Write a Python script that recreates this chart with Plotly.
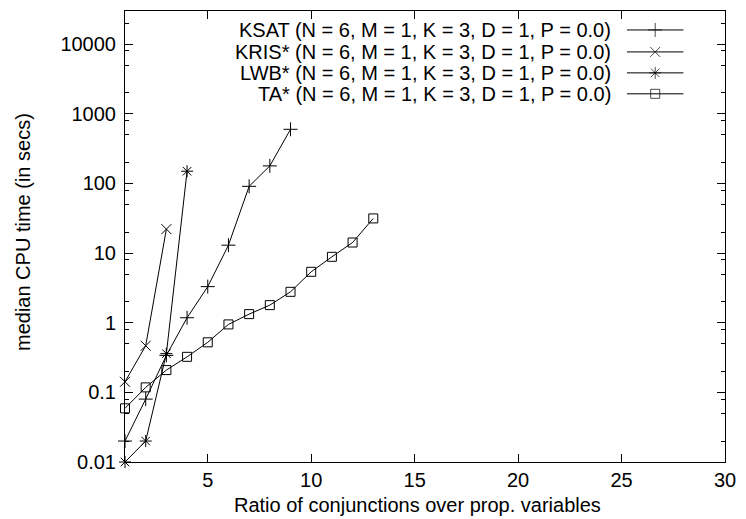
import plotly.graph_objects as go
import math

# ---------------- data ----------------
ksat_x = [1, 2, 3, 4, 5, 6, 7, 8, 9]
ksat_y = [0.02, 0.08, 0.34, 1.18, 3.3, 13.0, 91, 179, 600]

kris_x = [1, 2, 3]
kris_y = [0.142, 0.467, 22.1]

lwb_x = [1, 2, 3, 4]
lwb_y = [0.01, 0.02, 0.36, 150]

ta_x = [1, 2, 3, 4, 5, 6, 7, 8, 9, 10, 11, 12, 13]
ta_y = [0.059, 0.118, 0.209, 0.324, 0.523, 0.946, 1.33, 1.79, 2.78, 5.39, 8.85, 14.2, 31.5]

series_names = [
    "KSAT (N = 6, M = 1, K = 3, D = 1, P = 0.0)",
    "KRIS* (N = 6, M = 1, K = 3, D = 1, P = 0.0)",
    "LWB* (N = 6, M = 1, K = 3, D = 1, P = 0.0)",
    "TA* (N = 6, M = 1, K = 3, D = 1, P = 0.0)",
]
x_ticks = [5, 10, 15, 20, 25, 30]
y_ticks = [0.01, 0.1, 1, 10, 100, 1000, 10000]
y_tick_labels = ["0.01", "0.1", "1", "10", "100", "1000", "10000"]
x_title = "Ratio of conjunctions over prop. variables"
y_title = "median CPU time (in secs)"

# ---------------- layout constants ----------------
W, H = 746, 519
L, R, T, B = 125, 15, 10, 57
PW, PH = W - L - R, H - T - B
FONT = "Liberation Sans, Arial, sans-serif"
FS = 20
symbols = ["cross-thin", "x-thin", "asterisk-open", "square-open"]
sizes = [10, 10, 10, 9]

def px_to_paper_x(px):
    return (px - L) / PW

def px_to_paper_y(py):
    return (H - B - py) / PH

fig = go.Figure()
data = [(ksat_x, ksat_y), (kris_x, kris_y), (lwb_x, lwb_y), (ta_x, ta_y)]
for (xs, ys), name, sym, sz in zip(data, series_names, symbols, sizes):
    fig.add_trace(go.Scatter(
        x=xs, y=ys, mode="lines+markers", name=name, showlegend=False,
        line=dict(color="black", width=1),
        marker=dict(symbol=sym, size=sz, color="black",
                    line=dict(color="black", width=1)),
        cliponaxis=False,
    ))

# custom gnuplot-style legend (text right-aligned, sample on the right)
row_py = [29, 51, 72, 93]
text_right_px = 618
sample_px = (632, 689)
for i, (name, sym, sz) in enumerate(zip(series_names, symbols, sizes)):
    yy = px_to_paper_y(row_py[i])
    fig.add_annotation(x=px_to_paper_x(text_right_px), y=yy, xref="paper", yref="paper",
                       text=name, showarrow=False, xanchor="right", yanchor="middle",
                       font=dict(family=FONT, size=FS, color="black"))
    x0, x1 = px_to_paper_x(sample_px[0]), px_to_paper_x(sample_px[1])
    fig.add_trace(go.Scatter(
        x=[x0, (x0 + x1) / 2, x1], y=[yy, yy, yy], xaxis="x2", yaxis="y2",
        mode="lines+markers", showlegend=False, hoverinfo="skip",
        line=dict(color="black", width=1),
        marker=dict(symbol=sym, size=[0, sz, 0], color="black",
                    line=dict(color="black", width=1)),
        cliponaxis=False,
    ))

minor_vals = []
for k in range(-2, 5):
    for m in (2, 5, 8):
        v = m * 10 ** k
        if v < 30000:
            minor_vals.append(v)

fig.update_layout(
    width=W, height=H,
    margin=dict(l=L, r=R, t=T, b=B),
    paper_bgcolor="white", plot_bgcolor="white",
    font=dict(family=FONT, size=FS, color="black"),
    showlegend=False,
    xaxis=dict(
        range=[1, 30], tickvals=x_ticks, ticktext=[str(v) for v in x_ticks],
        ticks="inside", ticklen=8, tickwidth=1, tickcolor="black",
        showline=True, linecolor="black", linewidth=1, mirror="allticks",
        showgrid=False, zeroline=False,
        tickfont=dict(family=FONT, size=FS),
    ),
    yaxis=dict(
        type="log", range=[math.log10(0.01), math.log10(30000)],
        tickvals=y_ticks, ticktext=y_tick_labels,
        ticks="inside", ticklen=8, tickwidth=1, tickcolor="black",
        minor=dict(tickvals=minor_vals, ticks="inside", ticklen=4, tickcolor="black", showgrid=False),
        showline=True, linecolor="black", linewidth=1, mirror="allticks",
        showgrid=False, zeroline=False,
        tickfont=dict(family=FONT, size=FS),
        ticklabelstandoff=4,
    ),
    xaxis2=dict(overlaying="x", range=[0, 1], visible=False, anchor="y2",
                domain=[0, 1]),
    yaxis2=dict(overlaying="y", range=[0, 1], visible=False, anchor="x2"),
)

fig.add_annotation(x=px_to_paper_x(233), y=px_to_paper_y(505), xref="paper", yref="paper",
                   text=x_title, showarrow=False, xanchor="left", yanchor="middle",
                   font=dict(family=FONT, size=FS, color="black"))
fig.add_annotation(x=px_to_paper_x(22), y=px_to_paper_y(231.5), xref="paper", yref="paper",
                   text=y_title, showarrow=False, textangle=-90,
                   xanchor="center", yanchor="middle",
                   font=dict(family=FONT, size=FS, color="black"))

fig.write_html("out.html")
